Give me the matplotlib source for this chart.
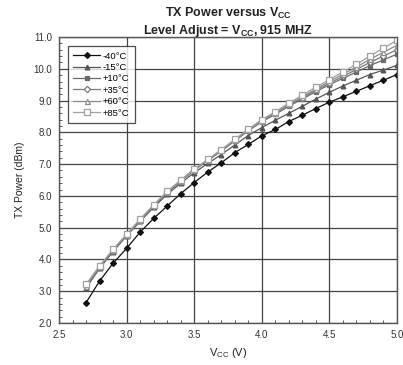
import numpy as np
import matplotlib
matplotlib.use("Agg")
import matplotlib.pyplot as plt
from matplotlib.ticker import MultipleLocator, FormatStrFormatter

plt.rcParams['font.family'] = ['Liberation Sans', 'DejaVu Sans']

vcc = [2.7, 2.8, 2.9, 3.0, 3.1, 3.2, 3.3, 3.4, 3.5, 3.6, 3.7, 3.8,
       3.9, 4.0, 4.1, 4.2, 4.3, 4.4, 4.5, 4.6, 4.7, 4.8, 4.9, 5.0]

labels = ["-40°C", "-15°C", "+10°C", "+35°C", "+60°C", "+85°C"]

p_m40 = [2.64, 3.32, 3.88, 4.35, 4.86, 5.29, 5.68, 6.07, 6.42, 6.75, 7.04, 7.36,
         7.62, 7.89, 8.09, 8.34, 8.54, 8.75, 8.95, 9.12, 9.29, 9.47, 9.64, 9.82]
p_m15 = [3.10, 3.72, 4.25, 4.74, 5.20, 5.64, 6.05, 6.40, 6.73, 7.02, 7.30, 7.60,
         7.90, 8.15, 8.38, 8.60, 8.82, 9.05, 9.26, 9.46, 9.64, 9.82, 9.96, 10.11]
p_p10 = [3.12, 3.74, 4.27, 4.76, 5.23, 5.68, 6.10, 6.46, 6.81, 7.11, 7.41, 7.73,
         8.05, 8.33, 8.57, 8.82, 9.05, 9.28, 9.50, 9.70, 9.90, 10.10, 10.28, 10.46]
p_p35 = [3.15, 3.76, 4.28, 4.77, 5.24, 5.69, 6.11, 6.47, 6.82, 7.12, 7.42, 7.74,
         8.06, 8.35, 8.60, 8.85, 9.09, 9.32, 9.55, 9.76, 9.98, 10.20, 10.40, 10.60]
p_p60 = [3.18, 3.78, 4.30, 4.78, 5.25, 5.70, 6.12, 6.48, 6.83, 7.13, 7.43, 7.75,
         8.07, 8.37, 8.62, 8.88, 9.12, 9.36, 9.60, 9.83, 10.05, 10.30, 10.52, 10.74]
p_p85 = [3.22, 3.80, 4.32, 4.80, 5.27, 5.72, 6.14, 6.50, 6.85, 7.15, 7.46, 7.78,
         8.10, 8.40, 8.65, 8.92, 9.17, 9.42, 9.66, 9.90, 10.14, 10.40, 10.65, 10.90]

series = [p_m40, p_m15, p_p10, p_p35, p_p60, p_p85]
colors = ["#111111", "#555555", "#6a6a6a", "#7a7a7a", "#8c8c8c", "#a0a0a0"]
markers = ["D", "^", "s", "D", "^", "s"]
filled = [True, True, True, False, False, False]
msizes = [3.0, 3.4, 3.4, 3.2, 3.6, 3.8]

fig = plt.figure(figsize=(4.03, 3.65), dpi=100)
ax = fig.add_axes([0.1464, 0.115, 0.8386, 0.7836])

for s, lab, c, m, f, ms in zip(series, labels, colors, markers, filled, msizes):
    ax.plot(vcc, s, color=c, lw=0.9, marker=m, markersize=ms,
            markerfacecolor=c if f else "white", markeredgecolor=c,
            markeredgewidth=0.9, label=lab)

ax.set_xlim(2.5, 5.0)
ax.set_ylim(2.0, 11.0)
ax.xaxis.set_major_locator(MultipleLocator(0.5))
ax.xaxis.set_minor_locator(MultipleLocator(0.1))
ax.yaxis.set_major_locator(MultipleLocator(1.0))
ax.yaxis.set_minor_locator(MultipleLocator(0.2))
ax.xaxis.set_major_formatter(FormatStrFormatter('%.1f'))
ax.yaxis.set_major_formatter(FormatStrFormatter('%.1f'))
ax.grid(True, which='major', color='#444444', lw=0.9)
ax.tick_params(which='major', direction='in', length=0, labelsize=7,
               labelcolor='#333333', pad=5)
ax.tick_params(which='minor', direction='in', length=2.5, color='#555555', width=0.7)
for sp in ax.spines.values():
    sp.set_color('#555555')
    sp.set_linewidth(1.0)

ax.set_xlabel("V$_{\\mathregular{CC}}$ (V)", fontsize=8, color='#222222', labelpad=4)
ax.set_ylabel("TX Power (dBm)", fontsize=7.5, color='#222222', labelpad=6)

fig.text(0.566, 0.963, "TX Power versus V$_{\\mathregular{CC}}$", ha='center', va='center',
         fontsize=9, fontweight='bold', color='#222222')
fig.text(0.566, 0.915, "Level Adjust = V$_{\\mathregular{CC}}$, 915 MHZ", ha='center',
         va='center', fontsize=9, fontweight='bold', color='#222222')

leg = ax.legend(loc='upper left', bbox_to_anchor=(0.02, 0.975), fontsize=6.8,
                frameon=True, fancybox=False, edgecolor='#222222',
                borderpad=0.6, labelspacing=0.25, handlelength=2.8,
                handletextpad=0.3, borderaxespad=0.2)
leg.get_frame().set_linewidth(0.9)

fig.savefig("out.png", dpi=100)
